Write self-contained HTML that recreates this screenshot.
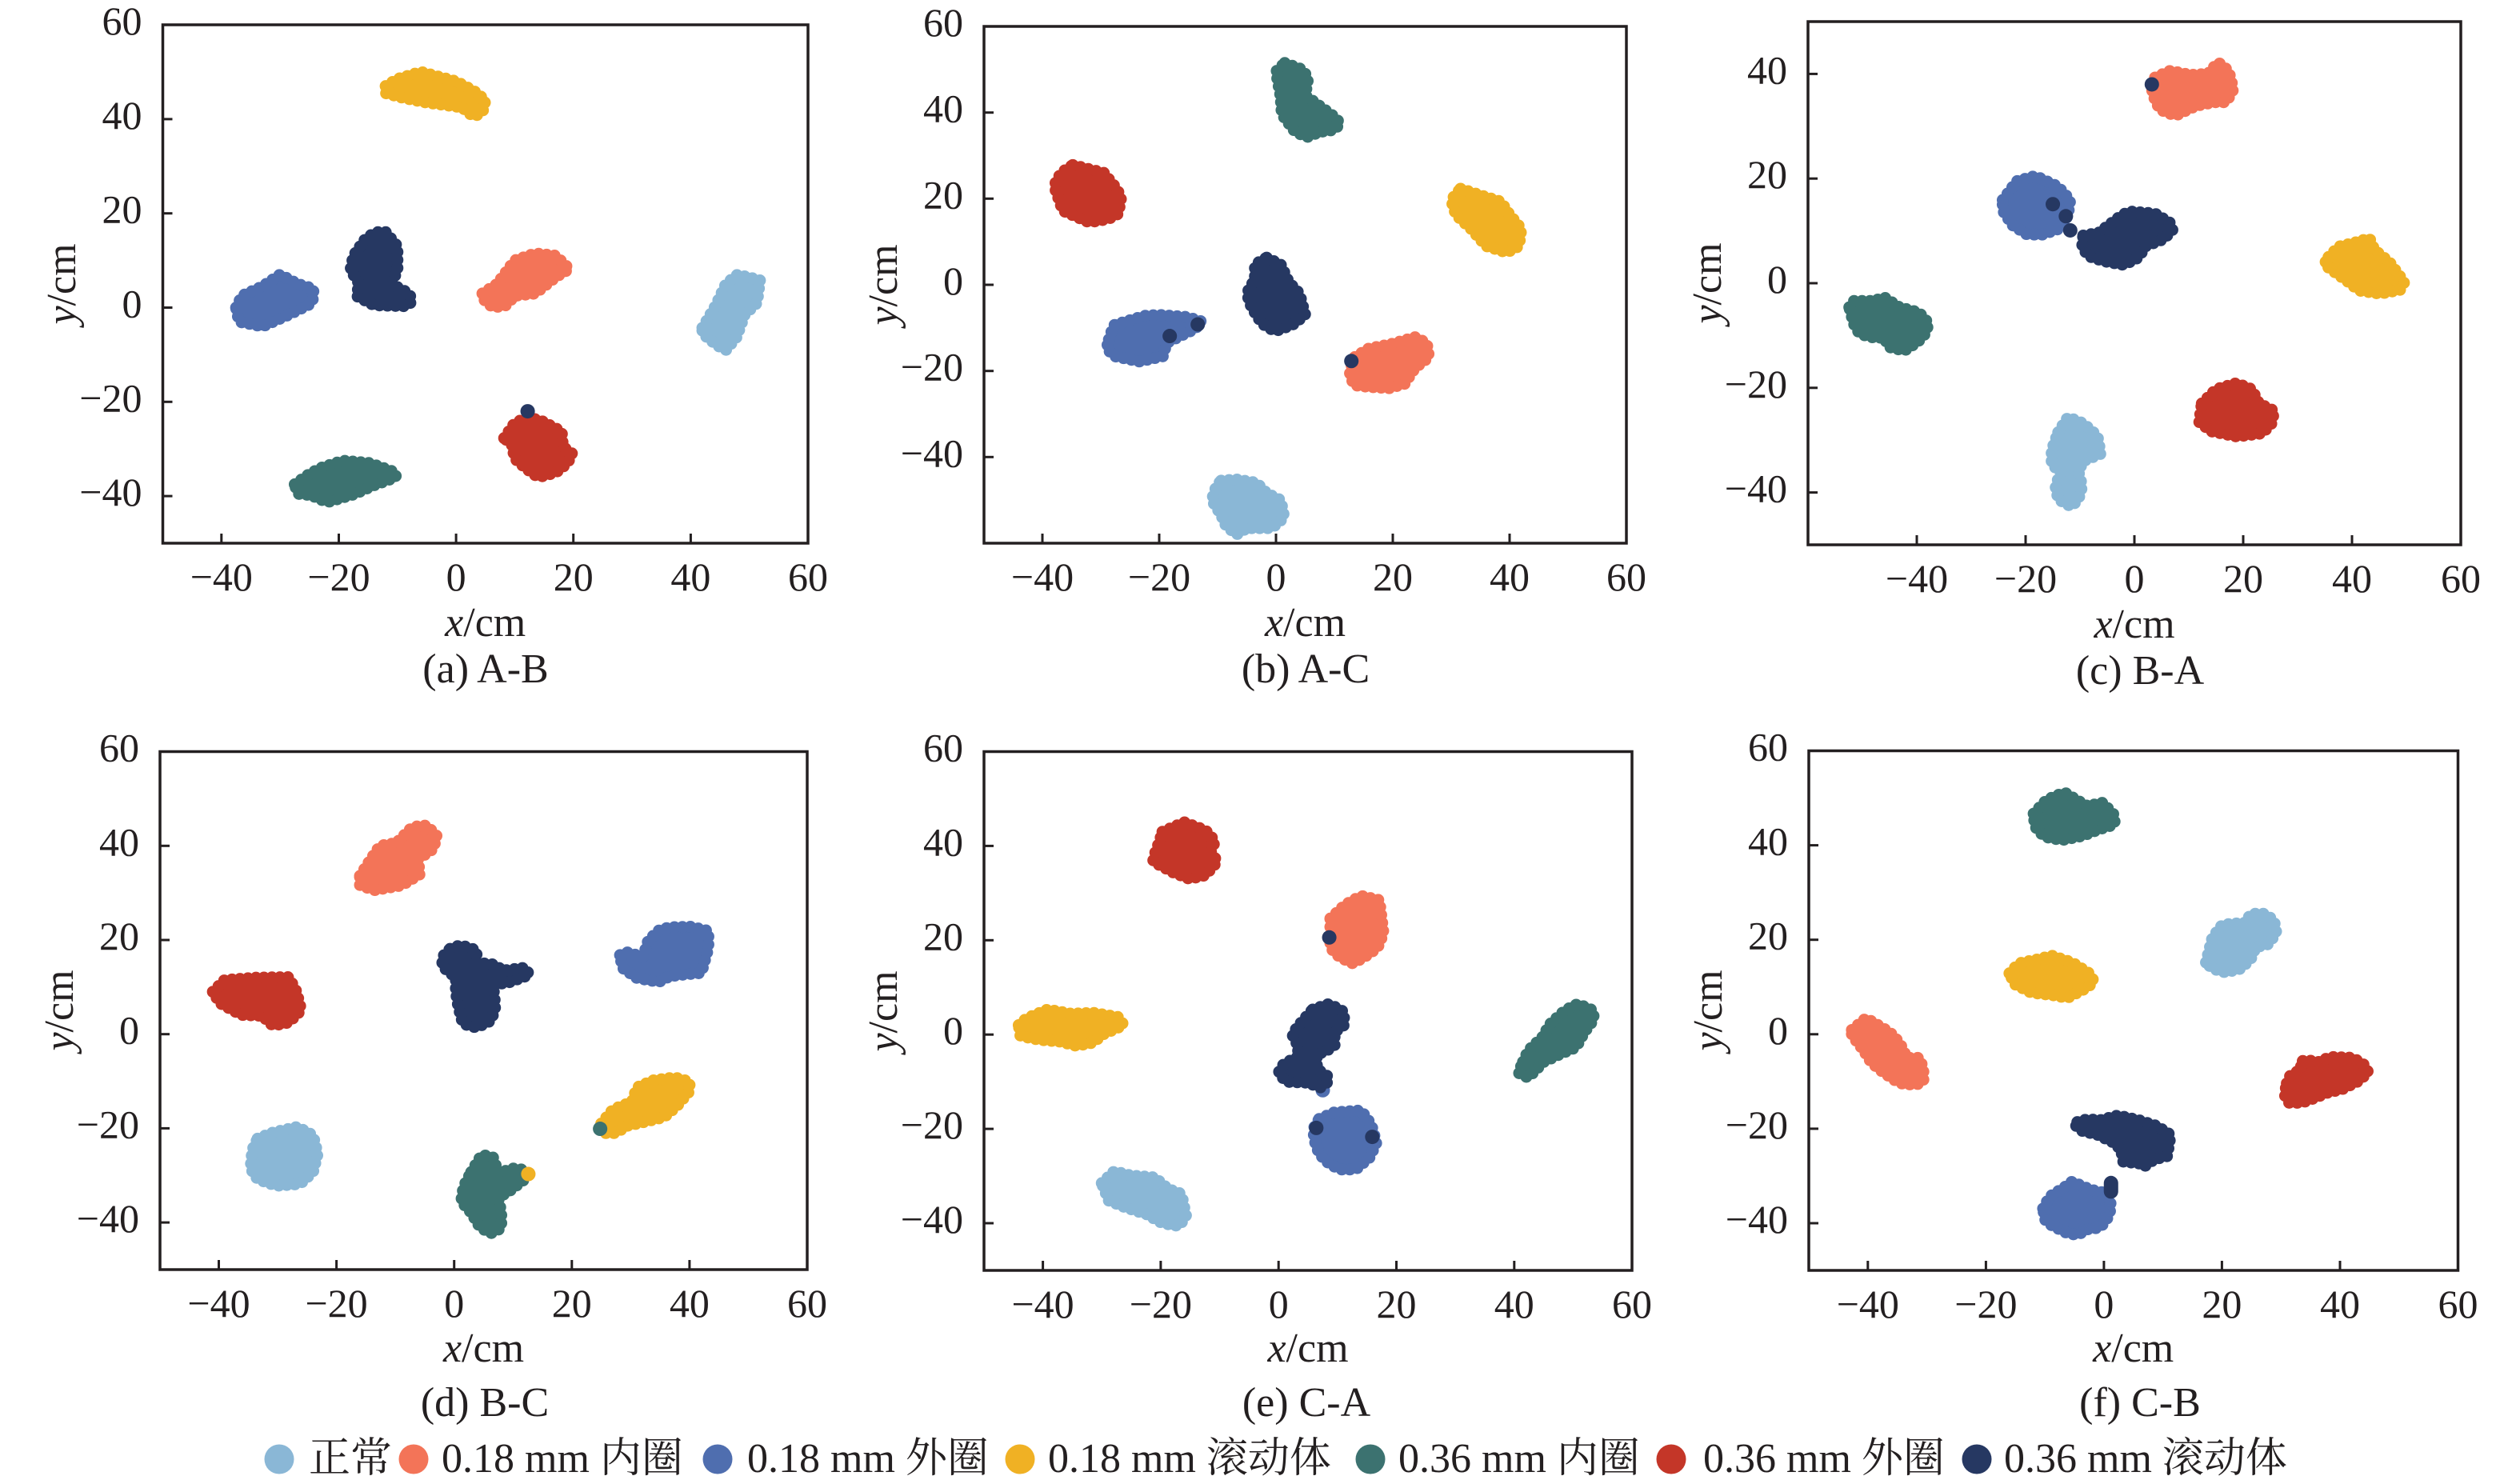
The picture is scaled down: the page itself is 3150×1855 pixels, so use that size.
<!DOCTYPE html>
<html><head><meta charset="utf-8"><style>
html,body{margin:0;padding:0;background:#fff;}
svg{display:block;}
.cl{stroke-width:6;stroke-linejoin:round;}
.sc{stroke-width:15;stroke-dasharray:0 10;stroke-linecap:round;stroke-linejoin:round;}
.d{fill:none;stroke-width:18;stroke-linecap:round;stroke-dasharray:none;}
.n{fill:#8AB7D6;stroke:#8AB7D6}
.o{fill:#F37458;stroke:#F37458}
.b{fill:#4F6EAF;stroke:#4F6EAF}
.y{fill:#F0B124;stroke:#F0B124}
.t{fill:#3C7270;stroke:#3C7270}
.r{fill:#C43628;stroke:#C43628}
.k{fill:#263862;stroke:#263862}
.d.n,.d.o,.d.b,.d.y,.d.t,.d.r,.d.k{fill:none}
.sp{fill:none;stroke:#231f20;stroke-width:3.5}
.tk{stroke:#231f20;stroke-width:3}
.tl{font-size:50px;fill:#231f20}
.al{font-size:52px;fill:#231f20}
.lg{font-size:52px;fill:#231f20}
</style></head><body>
<svg width="3150" height="1855" viewBox="0 0 3150 1855" xmlns="http://www.w3.org/2000/svg" xmlns:xlink="http://www.w3.org/1999/xlink" font-family="'Liberation Serif','Noto Serif CJK SC',serif">
<rect width="3150" height="1855" fill="#fff"/>

<!-- ========== Panel a ========== -->
<g class="cl" transform="translate(570.1 384.5) scale(7.332 -5.891)">
<g id="ga">
<path class="n" vector-effect="non-scaling-stroke" d="M42,-4.3 44.3,0.5 46,5 48,7 51.8,5.8 51.3,1 49.2,-1.5 47.8,-6.3 46,-9 44.5,-8 42,-5.5Z"/>
<path class="o" vector-effect="non-scaling-stroke" d="M4.5,3 7,5 10,10 13.5,11.5 17,11 19.3,8.2 17,6.5 13.5,3 10,2.5 8.5,0.5 6.3,0 4.5,2Z"/>
<path class="b" vector-effect="non-scaling-stroke" d="M-37.5,0 -36.5,2.5 -33,4.5 -30,7 -27,5 -24.3,4 -24.5,1 -28.5,-1.5 -33,-4 -37,-3Z"/>
<path class="y" vector-effect="non-scaling-stroke" d="M-12,47 -10,48.5 -6,50 -3,49 0,48 3,46 5,44 4.5,41.5 3,40.5 1,42.5 -2,43 -5,43.5 -9,44.5 -12,45.5Z"/>
<path class="t" vector-effect="non-scaling-stroke" d="M-27.5,-37.5 -25,-35.3 -23,-34 -19.3,-32.5 -14.7,-33 -10.3,-35 -10.3,-36 -14,-37.7 -17.4,-39.6 -22,-41.3 -24.7,-39.8 -27,-39.5Z"/>
<path class="r" vector-effect="non-scaling-stroke" d="M8.2,-27.7 10,-24.5 12.2,-23.3 14.5,-24 18,-26.3 18.2,-29.5 19.8,-31 19,-33 17,-35 14,-36 11.8,-34 10,-32 9.5,-29Z"/>
<path class="k" vector-effect="non-scaling-stroke" d="M-12,16 -10,13 -10,8 -11,5 -8,3 -7.5,1.3 -8.5,0.3 -14,0.5 -17,2.5 -16.5,5 -18,8 -17.5,11 -15.5,14.5 -13.8,16Z"/>
</g>
<use href="#ga" xlink:href="#ga" class="sc"/>
<path class="d k" vector-effect="non-scaling-stroke" d="M12.2,-22 h0.01"/>
</g>
<rect class="sp" x="203.5" y="31" width="806.5" height="648"/>
<g class="tk">
<line x1="276.8" y1="679" x2="276.8" y2="667"/><line x1="423.5" y1="679" x2="423.5" y2="667"/><line x1="570.1" y1="679" x2="570.1" y2="667"/><line x1="716.7" y1="679" x2="716.7" y2="667"/><line x1="863.4" y1="679" x2="863.4" y2="667"/>
<line x1="203.5" y1="148.9" x2="215.5" y2="148.9"/><line x1="203.5" y1="266.7" x2="215.5" y2="266.7"/><line x1="203.5" y1="384.5" x2="215.5" y2="384.5"/><line x1="203.5" y1="502.3" x2="215.5" y2="502.3"/><line x1="203.5" y1="620.1" x2="215.5" y2="620.1"/>
</g>
<g class="tl" text-anchor="middle">
<text x="276.8" y="738">−40</text><text x="423.5" y="738">−20</text><text x="570.1" y="738">0</text><text x="716.7" y="738">20</text><text x="863.4" y="738">40</text><text x="1010" y="738">60</text>
</g>
<g class="tl" text-anchor="end">
<text x="177.5" y="43">60</text><text x="177.5" y="160.9">40</text><text x="177.5" y="278.7">20</text><text x="177.5" y="396.5">0</text><text x="177.5" y="514.3">−20</text><text x="177.5" y="632.1">−40</text>
</g>
<text class="al" x="606.7" y="795" text-anchor="middle"><tspan font-style="italic">x</tspan>/cm</text>
<text class="al" transform="translate(94 355) rotate(-90)" text-anchor="middle"><tspan font-style="italic">y</tspan>/cm</text>
<text class="al" x="607" y="853" text-anchor="middle">(a) A-B</text>

<!-- ========== Panel b ========== -->
<g class="cl" transform="translate(1595 356) scale(7.3 -5.383)">
<g id="gb">
<path class="n" vector-effect="non-scaling-stroke" d="M-9.4,-45.5 -6.8,-45.2 -3.3,-46 -1.6,-48.4 0.8,-50 1.4,-54 -0.7,-56.5 -5,-56.5 -6.8,-58 -8.6,-55.8 -9.4,-53.4 -11,-50 -10.2,-46.7Z"/>
<path class="o" vector-effect="non-scaling-stroke" d="M13.5,-16.8 15.9,-14.8 19.4,-13.9 23.8,-12.2 25.8,-13.5 26.2,-16.8 23.8,-19.3 22,-23 19.4,-24 15.9,-23.7 13.3,-23.3 12.6,-20.2Z"/>
<path class="b" vector-effect="non-scaling-stroke" d="M-28.6,-12.7 -27.8,-9.4 -22.5,-7.2 -20,-7 -15.2,-7.5 -12.8,-8.5 -13.8,-10.2 -16.4,-11.9 -18.7,-13.5 -19.4,-16.6 -23.4,-17.8 -27.6,-16.6 -29,-14.8Z"/>
<path class="y" vector-effect="non-scaling-stroke" d="M31.6,22.3 35,20.8 38.5,19.3 40,16.3 42,13 41.6,9 39.5,7.5 36,9 33.4,13 30.8,16.3 30,19.7Z"/>
<path class="t" vector-effect="non-scaling-stroke" d="M1.5,51.5 4.5,50 5.5,48 5,44 8,41 10,39 11,37.5 10,36 7.5,35.5 5.3,34.3 3.3,35.5 1,39.6 0.8,43.7 0,49.5Z"/>
<path class="r" vector-effect="non-scaling-stroke" d="M-34.8,27.8 -29.5,26 -27.7,23 -26.5,20.5 -27,16.5 -28.7,15.3 -32,14.5 -36.5,17.2 -38,23 -36.8,26Z"/>
<path class="k" vector-effect="non-scaling-stroke" d="M-1.6,6.3 0.8,4.7 2.2,0.6 4,-2 5,-7 2.8,-9.3 -0.2,-10.8 -2.4,-9 -4.2,-5.2 -5,-2 -3.6,1.4 -3.6,4.7Z"/>
</g>
<use href="#gb" xlink:href="#gb" class="sc"/>
<path class="d k" vector-effect="non-scaling-stroke" d="M-18.2,-11.9 h0.01 M-13.4,-9.2 h0.01 M12.9,-17.7 h0.01"/>
</g>
<rect class="sp" x="1230" y="33" width="803" height="646"/>
<g class="tk">
<line x1="1303" y1="679" x2="1303" y2="667"/><line x1="1449" y1="679" x2="1449" y2="667"/><line x1="1595" y1="679" x2="1595" y2="667"/><line x1="1741" y1="679" x2="1741" y2="667"/><line x1="1887" y1="679" x2="1887" y2="667"/>
<line x1="1230" y1="140.7" x2="1242" y2="140.7"/><line x1="1230" y1="248.3" x2="1242" y2="248.3"/><line x1="1230" y1="356" x2="1242" y2="356"/><line x1="1230" y1="463.7" x2="1242" y2="463.7"/><line x1="1230" y1="571.3" x2="1242" y2="571.3"/>
</g>
<g class="tl" text-anchor="middle">
<text x="1303" y="738">−40</text><text x="1449" y="738">−20</text><text x="1595" y="738">0</text><text x="1741" y="738">20</text><text x="1887" y="738">40</text><text x="2033" y="738">60</text>
</g>
<g class="tl" text-anchor="end">
<text x="1204" y="45">60</text><text x="1204" y="152.7">40</text><text x="1204" y="260.3">20</text><text x="1204" y="368">0</text><text x="1204" y="475.7">−20</text><text x="1204" y="583.3">−40</text>
</g>
<text class="al" x="1631.5" y="795" text-anchor="middle"><tspan font-style="italic">x</tspan>/cm</text>
<text class="al" transform="translate(1121 356) rotate(-90)" text-anchor="middle"><tspan font-style="italic">y</tspan>/cm</text>
<text class="al" x="1632" y="853" text-anchor="middle">(b) A-C</text>

<!-- ========== Panel c ========== -->
<g class="cl" transform="translate(2668 354) scale(6.8 -6.54)">
<g id="gc">
<path class="n" vector-effect="non-scaling-stroke" d="M-14,-28.5 -12.2,-25.6 -9.4,-26.8 -6.8,-29.2 -6.2,-32.6 -9.4,-34 -10.3,-36 -9.6,-38.8 -10.3,-41.3 -11.6,-42.7 -14,-41.3 -14.5,-38.8 -13.5,-36 -15.2,-34.7 -15.2,-31.9Z"/>
<path class="o" vector-effect="non-scaling-stroke" d="M3.8,39.3 6.6,40.6 10.3,39.8 13.5,40 15.4,42.2 17.3,40.6 18.2,37.1 16.9,34.6 14.6,34.6 11.3,33.9 7.5,32 4.7,33.2 3.8,35 3,37.8Z"/>
<path class="b" vector-effect="non-scaling-stroke" d="M-24.2,15.9 -21.6,19.5 -18.2,20.5 -14.1,18.5 -11.8,15.9 -12.2,13.2 -13.3,10.6 -16.9,9.3 -19.7,9.3 -22.4,11.1 -24.2,13.9Z"/>
<path class="y" vector-effect="non-scaling-stroke" d="M35.7,5 37.6,7 40.4,7.7 43.2,8.6 44.1,6.4 46.9,4 49.6,0.2 48.8,-1.3 45.1,-2 41.3,-1.4 39.4,0.2 36.6,2.3 34.9,3.6Z"/>
<path class="t" vector-effect="non-scaling-stroke" d="M-52.4,-4.6 -51.6,-3.4 -47.9,-3.4 -46,-2.7 -43.2,-4.6 -39.6,-5.6 -37.8,-7.7 -38.5,-9.7 -39.8,-11.2 -42.3,-12.9 -45.1,-12.2 -46,-10.4 -47.9,-10.4 -50.5,-9.7 -51.6,-7.7Z"/>
<path class="r" vector-effect="non-scaling-stroke" d="M12.4,-23 15,-20.3 18.8,-19.1 21.6,-20.3 22.9,-23 25.7,-24.4 25.2,-26.8 23.5,-28.7 18.8,-29.3 14.1,-28.3 11.9,-26.5Z"/>
<path class="k" vector-effect="non-scaling-stroke" d="M-9.4,9.1 -6.6,9.6 -2.3,13 -0.9,13.7 3.8,13.3 6.6,11.5 7,10.1 5.3,8.4 1.9,7 0.9,5 -1.9,3.5 -5.6,4.2 -8.5,5.2 -9.6,7Z"/>
</g>
<use href="#gc" xlink:href="#gc" class="sc"/>
<path class="d k" vector-effect="non-scaling-stroke" d="M3.2,38 h0.01 M-15,15.1 h0.01 M-12.6,12.8 h0.01 M-11.8,10.1 h0.01"/>
</g>
<rect class="sp" x="2260" y="27" width="816" height="654"/>
<g class="tk">
<line x1="2396" y1="681" x2="2396" y2="669"/><line x1="2532" y1="681" x2="2532" y2="669"/><line x1="2668" y1="681" x2="2668" y2="669"/><line x1="2804" y1="681" x2="2804" y2="669"/><line x1="2940" y1="681" x2="2940" y2="669"/>
<line x1="2260" y1="92.4" x2="2272" y2="92.4"/><line x1="2260" y1="223.2" x2="2272" y2="223.2"/><line x1="2260" y1="354" x2="2272" y2="354"/><line x1="2260" y1="484.8" x2="2272" y2="484.8"/><line x1="2260" y1="615.6" x2="2272" y2="615.6"/>
</g>
<g class="tl" text-anchor="middle">
<text x="2396" y="740">−40</text><text x="2532" y="740">−20</text><text x="2668" y="740">0</text><text x="2804" y="740">20</text><text x="2940" y="740">40</text><text x="3076" y="740">60</text>
</g>
<g class="tl" text-anchor="end">
<text x="2234" y="104.4">40</text><text x="2234" y="235.2">20</text><text x="2234" y="366">0</text><text x="2234" y="496.8">−20</text><text x="2234" y="627.6">−40</text>
</g>
<text class="al" x="2668" y="797" text-anchor="middle"><tspan font-style="italic">x</tspan>/cm</text>
<text class="al" transform="translate(2151 354) rotate(-90)" text-anchor="middle"><tspan font-style="italic">y</tspan>/cm</text>
<text class="al" x="2675" y="855" text-anchor="middle">(c) B-A</text>

<!-- ========== Panel d ========== -->
<g class="cl" transform="translate(567.7 1292.7) scale(7.355 -5.886)">
<g id="gd">
<path class="n" vector-effect="non-scaling-stroke" d="M-33.4,-22.2 -30.8,-20.9 -26.6,-19.7 -24,-21.5 -23.2,-25.4 -24,-29.3 -26.2,-31.8 -30.2,-32.2 -33.4,-30.8 -34.6,-28.5 -34.3,-24.6Z"/>
<path class="o" vector-effect="non-scaling-stroke" d="M-16,33.6 -14.4,36.7 -12.6,40 -9.8,40.6 -7.1,44 -4.7,44.3 -3,42.2 -3.5,39.4 -6.2,37.1 -5.8,34 -8.9,31.6 -13.5,30.6 -16,31.6Z"/>
<path class="b" vector-effect="non-scaling-stroke" d="M28.2,16.8 29.3,17.4 32.1,16.4 33,19.9 34.8,22 36.6,22.7 40.3,22.8 43.2,21.9 43.2,18.3 42,13 39.3,12.7 36.6,12.3 34.8,11.1 31.1,11.9 28.6,14.1Z"/>
<path class="y" vector-effect="non-scaling-stroke" d="M25,-19 27,-16 30.2,-14.4 31.1,-11.3 33.9,-9.8 37.5,-9.2 40,-10.1 40,-12.1 37.9,-15.2 35.7,-17.6 32.1,-18.7 29.3,-19.5 27.5,-21 25.3,-21Z"/>
<path class="t" vector-effect="non-scaling-stroke" d="M2.9,-29.3 4.7,-25.6 6.6,-26.2 7.5,-29.5 10.2,-28.5 12.2,-28.9 12,-30.8 9.3,-33.4 7.5,-34.7 8,-37.9 8,-41.2 6.2,-42.3 4.4,-41 2.9,-37.9 1.2,-35.5 1.6,-32.4Z"/>
<path class="r" vector-effect="non-scaling-stroke" d="M-41,9 -39,11.5 -33.5,12 -28.1,12.1 -26.8,9 -26,5.1 -28.1,2.5 -30.8,1.8 -32.6,3.9 -36.2,4.1 -39.8,6.6Z"/>
<path class="k" vector-effect="non-scaling-stroke" d="M-0.7,18.1 1.1,18.9 3.8,17.8 3.8,15.2 6.6,14.8 8.4,13.5 12,14.1 12.8,12.6 9.3,11 6.6,10.5 7,5.9 6.3,2.9 3.8,1.4 1.5,2.2 0.7,5.9 0.3,9 0.3,12 -2,14.4 -2,16.4Z"/>
</g>
<use href="#gd" xlink:href="#gd" class="sc"/>
<path class="d t" vector-effect="non-scaling-stroke" d="M24.8,-20.1 h0.01"/>
<path class="d y" vector-effect="non-scaling-stroke" d="M12.6,-29.7 h0.01"/>
</g>
<rect class="sp" x="200" y="939.5" width="809" height="647.5"/>
<g class="tk">
<line x1="273.5" y1="1587" x2="273.5" y2="1575"/><line x1="420.6" y1="1587" x2="420.6" y2="1575"/><line x1="567.7" y1="1587" x2="567.7" y2="1575"/><line x1="714.8" y1="1587" x2="714.8" y2="1575"/><line x1="861.9" y1="1587" x2="861.9" y2="1575"/>
<line x1="200" y1="1057.3" x2="212" y2="1057.3"/><line x1="200" y1="1175" x2="212" y2="1175"/><line x1="200" y1="1292.7" x2="212" y2="1292.7"/><line x1="200" y1="1410.4" x2="212" y2="1410.4"/><line x1="200" y1="1528.1" x2="212" y2="1528.1"/>
</g>
<g class="tl" text-anchor="middle">
<text x="273.5" y="1646">−40</text><text x="420.6" y="1646">−20</text><text x="567.7" y="1646">0</text><text x="714.8" y="1646">20</text><text x="861.9" y="1646">40</text><text x="1009" y="1646">60</text>
</g>
<g class="tl" text-anchor="end">
<text x="174" y="951.5">60</text><text x="174" y="1069.3">40</text><text x="174" y="1187">20</text><text x="174" y="1304.7">0</text><text x="174" y="1422.4">−20</text><text x="174" y="1540.1">−40</text>
</g>
<text class="al" x="604.5" y="1702" text-anchor="middle"><tspan font-style="italic">x</tspan>/cm</text>
<text class="al" transform="translate(91 1263) rotate(-90)" text-anchor="middle"><tspan font-style="italic">y</tspan>/cm</text>
<text class="al" x="606" y="1770" text-anchor="middle">(d) B-C</text>

<!-- ========== Panel e ========== -->
<g class="cl" transform="translate(1598.2 1293.2) scale(7.364 -5.895)">
<g id="ge">
<path class="n" vector-effect="non-scaling-stroke" d="M-30,-31.5 -27.9,-29 -25.1,-29.9 -21,-30.3 -18.8,-32.7 -16.5,-33.8 -15.7,-38.5 -16.9,-40.6 -19.7,-40 -22.4,-38.1 -26.1,-36.6 -28.8,-35.2Z"/>
<path class="o" vector-effect="non-scaling-stroke" d="M8.8,24.6 11.3,27.5 14,29.4 17.1,28.5 17.5,24.6 17.8,21.5 16.8,18.4 14.4,16.3 12.6,15.1 10.4,16.4 8.8,18.4 8.8,21.5Z"/>
<path class="b" vector-effect="non-scaling-stroke" d="M6.9,-17.9 9.5,-16.5 14,-16.1 15.7,-19 16.6,-22.9 15.5,-26 13.1,-28.6 10.4,-28.6 8.6,-27.4 6.9,-25.3 6,-22.1 6,-19.8Z"/>
<path class="y" vector-effect="non-scaling-stroke" d="M-44.1,2 -42.8,3.4 -39.2,5.3 -35.2,4.4 -31.5,4.6 -27.2,3.7 -26.3,2 -29.7,0.1 -31.5,-1.7 -34.3,-2.4 -37,-1.5 -40.6,-1.1 -43.8,-0.3Z"/>
<path class="t" vector-effect="non-scaling-stroke" d="M41.5,-5.8 42.4,-3.4 45,-0.3 45.9,2 48.6,5.1 50.8,6.5 53.4,5.1 53.5,3.2 51.9,0.5 50.5,-2.7 47.7,-4.2 45,-5.8 43.2,-8.1 42.3,-9.1 40.7,-8.1Z"/>
<path class="r" vector-effect="non-scaling-stroke" d="M-19.7,43 -16,45 -12.4,43.3 -10.8,41 -11.5,38.7 -10.4,36.7 -12.4,33.8 -15.1,33 -17.9,34.4 -21.3,36.7 -21,38.3 -20.2,41Z"/>
<path class="k" vector-effect="non-scaling-stroke" d="M5.8,5.3 8.6,6.5 11.1,4.8 11.1,2 9.5,0.5 9.5,-2.3 7.7,-3.8 6.5,-4 6.5,-7.3 8.4,-8.9 8.4,-10 7.1,-11.2 4.9,-10.2 1.3,-10 0,-8.1 0.9,-6.2 3.5,-4.6 3.1,-1.9 2.3,0.1 4,2.8Z"/>
</g>
<path class="d b" vector-effect="non-scaling-stroke" d="M7.5,-11.8 h0.01"/>
<use href="#ge" xlink:href="#ge" class="sc"/>
<path class="d k" vector-effect="non-scaling-stroke" d="M8.6,20.6 h0.01 M6.4,-19.8 h0.01 M15.9,-21.7 h0.01"/>
</g>
<rect class="sp" x="1230" y="939.5" width="810" height="648.5"/>
<g class="tk">
<line x1="1303.6" y1="1588" x2="1303.6" y2="1576"/><line x1="1450.9" y1="1588" x2="1450.9" y2="1576"/><line x1="1598.2" y1="1588" x2="1598.2" y2="1576"/><line x1="1745.5" y1="1588" x2="1745.5" y2="1576"/><line x1="1892.8" y1="1588" x2="1892.8" y2="1576"/>
<line x1="1230" y1="1057.4" x2="1242" y2="1057.4"/><line x1="1230" y1="1175.3" x2="1242" y2="1175.3"/><line x1="1230" y1="1293.2" x2="1242" y2="1293.2"/><line x1="1230" y1="1411.1" x2="1242" y2="1411.1"/><line x1="1230" y1="1529" x2="1242" y2="1529"/>
</g>
<g class="tl" text-anchor="middle">
<text x="1303.6" y="1647">−40</text><text x="1450.9" y="1647">−20</text><text x="1598.2" y="1647">0</text><text x="1745.5" y="1647">20</text><text x="1892.8" y="1647">40</text><text x="2040" y="1647">60</text>
</g>
<g class="tl" text-anchor="end">
<text x="1204" y="951.5">60</text><text x="1204" y="1069.4">40</text><text x="1204" y="1187.3">20</text><text x="1204" y="1305.2">0</text><text x="1204" y="1423.1">−20</text><text x="1204" y="1541">−40</text>
</g>
<text class="al" x="1635" y="1702" text-anchor="middle"><tspan font-style="italic">x</tspan>/cm</text>
<text class="al" transform="translate(1121 1264) rotate(-90)" text-anchor="middle"><tspan font-style="italic">y</tspan>/cm</text>
<text class="al" x="1633" y="1770" text-anchor="middle">(e) C-A</text>

<!-- ========== Panel f ========== -->
<g class="cl" transform="translate(2629.9 1292.8) scale(7.377 -5.905)">
<g id="gf">
<path class="n" vector-effect="non-scaling-stroke" d="M17.3,15.2 18.4,20.5 20.1,23.2 24,23.6 24.9,25.5 27,25.5 28.8,24.2 29.2,21.5 27.9,19.1 25.7,18.4 24.9,16 23.2,13.9 20.6,13.1 18.4,13.9Z"/>
<path class="o" vector-effect="non-scaling-stroke" d="M-42.7,0.9 -40.3,3.4 -37.3,1.2 -35.6,-0.3 -34.3,-2.6 -33.4,-5 -31.3,-5 -30.6,-7.3 -30.6,-10 -31.7,-10.6 -33.9,-10.6 -35.6,-9.6 -38.2,-7.3 -39.5,-5.8 -40.3,-4.2 -41.6,-1.9 -42.7,-0.3Z"/>
<path class="b" vector-effect="non-scaling-stroke" d="M-10.3,-36.9 -9.2,-34.4 -6.2,-32 -5.4,-31.2 -2.3,-32.9 0.5,-33.7 1.2,-36.1 0.9,-38.4 -0.6,-40.9 -2.8,-41.3 -4.5,-42.5 -6.2,-42.1 -8.8,-40.5 -10,-39.2Z"/>
<path class="y" vector-effect="non-scaling-stroke" d="M-16,12.9 -14.4,15 -11.4,15.8 -8.8,16.6 -5.4,15.2 -2.5,12.9 -1.7,11.2 -2.8,9.9 -6.2,7.7 -8.8,8.3 -12.3,8.8 -15.1,10.6Z"/>
<path class="t" vector-effect="non-scaling-stroke" d="M-11.9,46.7 -9.7,49.6 -6.7,51.2 -4.5,49.5 -2.8,48.3 -0.2,49 1.8,46.3 1.8,44.4 -1,43.3 -3.6,42 -7.1,41.1 -10.1,41.8 -11.7,44Z"/>
<path class="r" vector-effect="non-scaling-stroke" d="M31,-10.4 31.5,-8.9 33.5,-7.3 33.2,-5.8 34.4,-5.5 36.5,-5.9 38.3,-4.8 42.2,-5 44.1,-6.5 44.8,-8.1 43,-10 40.4,-11.6 37.8,-12.4 35.7,-13.5 33.5,-14.5 31.4,-14.5 30.6,-12.8Z"/>
<path class="k" vector-effect="non-scaling-stroke" d="M-4.5,-18.6 -2.8,-18 -0.6,-18.2 2.4,-17.2 5.9,-18.2 8.9,-19.4 11.3,-21.3 11,-23.6 10.7,-25.8 8.5,-26.5 6.7,-28.1 5.9,-27.3 3.3,-27 2.9,-24.4 1.6,-22.9 -1,-21.3 -3.6,-20.5 -4.7,-19.4Z"/>
</g>
<use href="#gf" xlink:href="#gf" class="sc"/>
<path class="d k" vector-effect="non-scaling-stroke" d="M1.2,-31.5 L1.2,-33.3"/>
</g>
<rect class="sp" x="2261" y="938.5" width="811.5" height="649.5"/>
<g class="tk">
<line x1="2334.8" y1="1588" x2="2334.8" y2="1576"/><line x1="2482.4" y1="1588" x2="2482.4" y2="1576"/><line x1="2629.9" y1="1588" x2="2629.9" y2="1576"/><line x1="2777.4" y1="1588" x2="2777.4" y2="1576"/><line x1="2925" y1="1588" x2="2925" y2="1576"/>
<line x1="2261" y1="1056.6" x2="2273" y2="1056.6"/><line x1="2261" y1="1174.7" x2="2273" y2="1174.7"/><line x1="2261" y1="1292.8" x2="2273" y2="1292.8"/><line x1="2261" y1="1410.9" x2="2273" y2="1410.9"/><line x1="2261" y1="1529" x2="2273" y2="1529"/>
</g>
<g class="tl" text-anchor="middle">
<text x="2334.8" y="1647">−40</text><text x="2482.4" y="1647">−20</text><text x="2629.9" y="1647">0</text><text x="2777.4" y="1647">20</text><text x="2925" y="1647">40</text><text x="3072.5" y="1647">60</text>
</g>
<g class="tl" text-anchor="end">
<text x="2235" y="950.5">60</text><text x="2235" y="1068.6">40</text><text x="2235" y="1186.7">20</text><text x="2235" y="1304.8">0</text><text x="2235" y="1422.9">−20</text><text x="2235" y="1541">−40</text>
</g>
<text class="al" x="2666.7" y="1702" text-anchor="middle"><tspan font-style="italic">x</tspan>/cm</text>
<text class="al" transform="translate(2152 1263) rotate(-90)" text-anchor="middle"><tspan font-style="italic">y</tspan>/cm</text>
<text class="al" x="2675" y="1770" text-anchor="middle">(f) C-B</text>

<!-- ========== Legend ========== -->
<circle cx="349" cy="1824" r="18.5" fill="#8AB7D6"/>
<text class="lg" x="386" y="1840">正常</text>
<circle cx="517" cy="1824" r="18.5" fill="#F37458"/>
<text class="lg" x="552" y="1840">0.18 mm 内圈</text>
<circle cx="897" cy="1824" r="18.5" fill="#4F6EAF"/>
<text class="lg" x="934" y="1840">0.18 mm 外圈</text>
<circle cx="1275" cy="1824" r="18.5" fill="#F0B124"/>
<text class="lg" x="1310" y="1840">0.18 mm 滚动体</text>
<circle cx="1713" cy="1824" r="18.5" fill="#3C7270"/>
<text class="lg" x="1748" y="1840">0.36 mm 内圈</text>
<circle cx="2089" cy="1824" r="18.5" fill="#C43628"/>
<text class="lg" x="2129" y="1840">0.36 mm 外圈</text>
<circle cx="2471" cy="1824" r="18.5" fill="#263862"/>
<text class="lg" x="2505" y="1840">0.36 mm 滚动体</text>
</svg>
</body></html>
